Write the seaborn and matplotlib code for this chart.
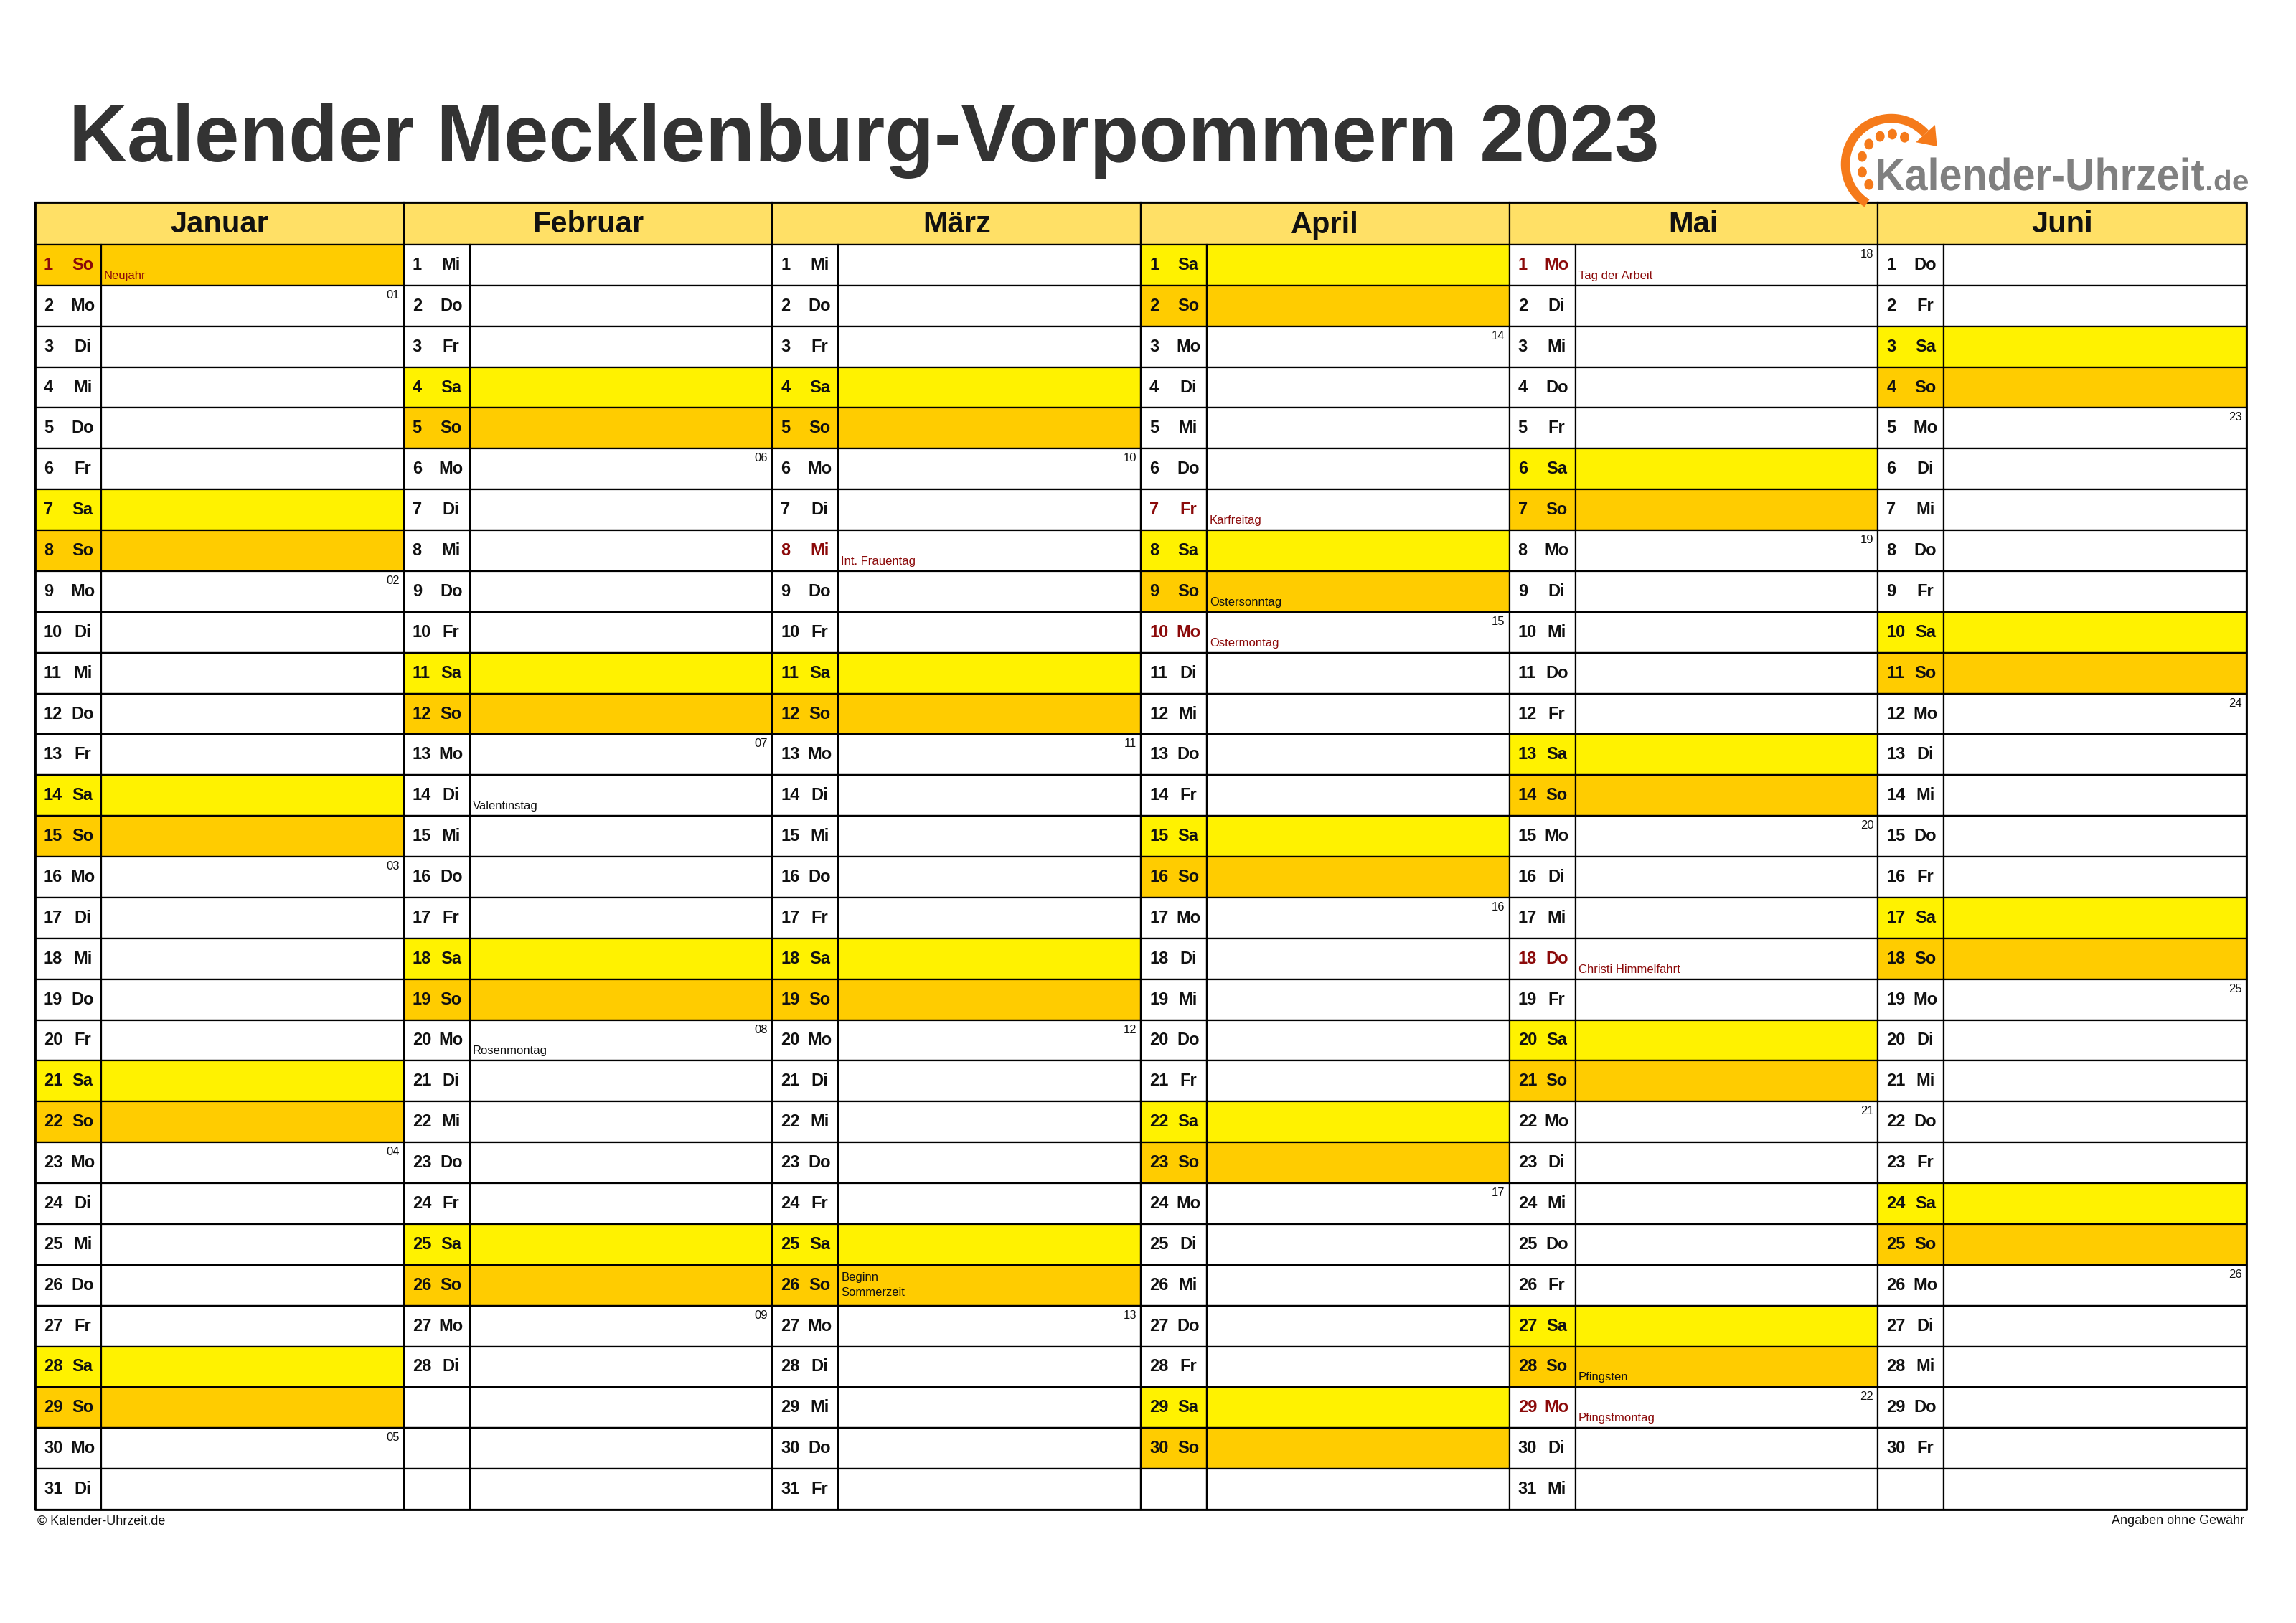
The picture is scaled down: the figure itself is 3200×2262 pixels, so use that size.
import datetime as dt
import numpy as np
import matplotlib
matplotlib.use("Agg")
import matplotlib.pyplot as plt
import seaborn as sns
from matplotlib.patches import Ellipse, PathPatch, Polygon
from matplotlib.textpath import TextPath
from matplotlib.font_manager import FontProperties
from matplotlib.transforms import Affine2D

sns.set_theme(style="white")
plt.rcParams["font.family"] = "Liberation Sans"

YEAR = 2023
months = ["Januar", "Februar", "März", "April", "Mai", "Juni"]
month_lengths = [31, 28, 31, 30, 31, 30]
weekday_names = ["Mo", "Di", "Mi", "Do", "Fr", "Sa", "So"]
# (month, day, label, is_public_holiday)
holidays = [
    (1, 1, "Neujahr", True),
    (2, 14, "Valentinstag", False),
    (2, 20, "Rosenmontag", False),
    (3, 8, "Int. Frauentag", True),
    (3, 26, "Beginn\nSommerzeit", False),
    (4, 7, "Karfreitag", True),
    (4, 9, "Ostersonntag", False),
    (4, 10, "Ostermontag", True),
    (5, 1, "Tag der Arbeit", True),
    (5, 18, "Christi Himmelfahrt", True),
    (5, 28, "Pfingsten", False),
    (5, 29, "Pfingstmontag", True),
]

C_SA = "#FFF200"
C_SO = "#FFCC00"
C_HEAD = "#FFE066"
C_RED = "#8B0A0A"
C_ORANGE = "#F57A1A"

fig = plt.figure(figsize=(16, 11.31), dpi=200)
ax = fig.add_axes([0, 0, 1, 1])
ax.set_xlim(0, 3200)
ax.set_ylim(2262, 0)
ax.axis("off")

L, R = 49, 3131
HT, HB, BOT = 282, 341, 2104
W = (R - L) / 6
RH = (BOT - HB) / 31
DW = 92

hol = {(m, d): (t, p) for m, d, t, p in holidays}

for i, (mname, n) in enumerate(zip(months, month_lengths)):
    x0 = L + i * W
    ax.bar(x0, HB - HT, bottom=HT, width=W, align="edge", color=C_HEAD,
           edgecolor="black", linewidth=0.8)
    ax.text(x0 + W / 2, (HT + HB) / 2 + 2, mname, ha="center", va="center",
            fontsize=15, fontweight="bold", color="#111111")
    for d in range(1, 32):
        y0 = HB + (d - 1) * RH
        if d <= n:
            date = dt.date(YEAR, i + 1, d)
            wd = date.weekday()
            color = C_SA if wd == 5 else (C_SO if wd == 6 else "white")
        else:
            color = "white"
        ax.bar(x0, RH, bottom=y0, width=DW, align="edge", color=color,
               edgecolor="black", linewidth=0.8)
        ax.bar(x0 + DW, RH, bottom=y0, width=W - DW, align="edge", color=color,
               edgecolor="black", linewidth=0.8)
        if d > n:
            continue
        h = hol.get((i + 1, d))
        tc = C_RED if (h and h[1]) else "#111111"
        ax.text(x0 + 12, y0 + RH / 2, str(d), ha="left", va="center",
                fontsize=8.5, fontweight="bold", color=tc)
        ax.text(x0 + 66, y0 + RH / 2, weekday_names[wd], ha="center", va="center",
                fontsize=8.5, fontweight="bold", color=tc)
        if wd == 0:
            ax.text(x0 + W - 6, y0 + 6, f"{date.isocalendar()[1]:02d}", ha="right",
                    va="top", fontsize=6, color="#111111")
        if h:
            if "\n" in h[0]:
                ax.text(x0 + DW + 4, y0 + RH / 2, h[0], ha="left", va="center",
                        fontsize=6, color="#111111", linespacing=1.5)
            else:
                ax.text(x0 + DW + 4, y0 + RH - 6, h[0], ha="left", va="bottom",
                        fontsize=6, color=tc)

ax.plot([L, R, R, L, L], [HT, HT, BOT, BOT, HT], color="black", lw=1.0)

ax.text(96, 196, f"Kalender Mecklenburg-Vorpommern {YEAR}", ha="left", va="center",
        fontsize=40.5, fontweight="bold", color="#333333")

ax.text(52, 2120, "© Kalender-Uhrzeit.de", ha="left", va="center", fontsize=6.5,
        color="#111111")
ax.text(3128, 2120, "Angaben ohne Gewähr", ha="right", va="center", fontsize=6.5,
        color="#111111")

# logo
fp = FontProperties(family="Liberation Sans", weight="bold")


def stretched_text(s, x_left, x_right, baseline, cap_h):
    tp = TextPath((0, 0), s, size=1, prop=fp)
    ext = tp.get_extents()
    sx = (x_right - x_left) / ext.width
    sy = cap_h / 0.716
    tr = Affine2D().translate(-ext.x0, 0).scale(sx, -sy).translate(x_left, baseline)
    ax.add_patch(PathPatch(tr.transform_path(tp), color="#808080", lw=0))


stretched_text("Kalender-Uhrzeit", 2617, 3072, 265, 45)
stretched_text(".de", 3076, 3133, 265, 28)

cx, cy, r = 2636, 229, 64
phi = np.radians(np.linspace(238, 42, 80))
ax.plot(cx + r * np.cos(phi), cy - r * np.sin(phi), color=C_ORANGE, lw=4.5,
        solid_capstyle="butt")
end = np.radians(42)
ex, ey = cx + r * np.cos(end), cy - r * np.sin(end)
tx, ty = np.sin(end), np.cos(end)  # clockwise tangent (visual, y down)
nx, ny = np.cos(end), -np.sin(end)
head = [(ex + 18 * nx, ey + 18 * ny), (ex - 18 * nx, ey - 18 * ny),
        (ex + 24 * tx, ey + 24 * ty)]
ax.add_patch(Polygon(head, closed=True, color=C_ORANGE, lw=0))
ri = 42
for a in [222, 195, 165, 138, 112, 88, 64]:
    ar = np.radians(a)
    ax.add_patch(Ellipse((cx + ri * np.cos(ar), cy - ri * np.sin(ar)), 10, 12,
                         color=C_ORANGE))

fig.savefig("out.png", dpi=200)
